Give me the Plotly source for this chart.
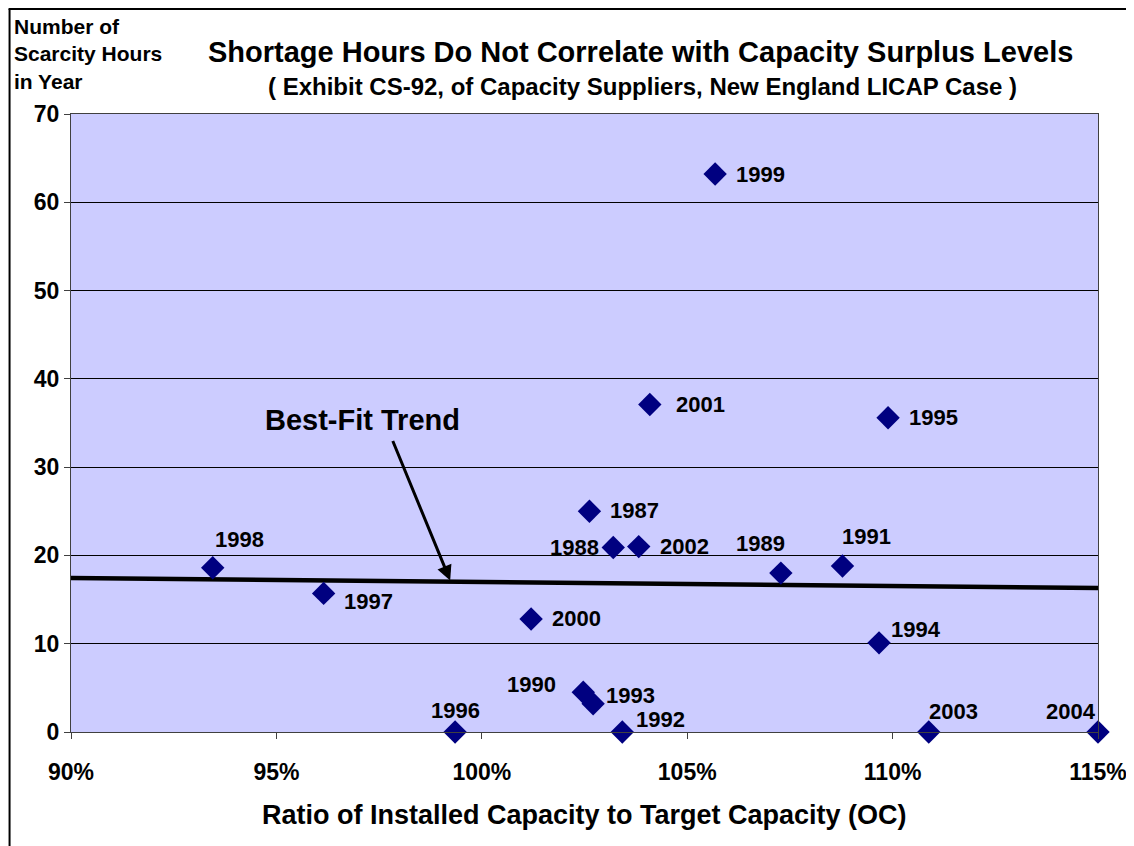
import plotly.graph_objects as go

# ---- data ----
years = ["1999", "2001", "1995", "1987", "1988", "2002", "1989", "1991", "1998",
         "1997", "2000", "1994", "1990", "1993", "1996", "1992", "2003", "2004"]
ratio_pct = [105.68, 104.09, 109.89, 102.62, 103.20, 103.82, 107.28, 108.78, 93.45,
             96.15, 101.20, 109.67, 102.47, 102.71, 99.35, 103.42, 110.88, 115.0]
scarcity_hours = [63.2, 37.1, 35.6, 25.0, 20.9, 21.0, 18.0, 18.8, 18.6,
                  15.7, 12.8, 10.1, 4.5, 3.2, 0, 0, 0, 0]
trend_x = [90, 115]
trend_y = [17.45, 16.3]
x_ticks = [90, 95, 100, 105, 110, 115]
x_tick_labels = ["90%", "95%", "100%", "105%", "110%", "115%"]
y_ticks = [0, 10, 20, 30, 40, 50, 60, 70]

# label offsets (pixels) per year: (xshift, yshift, xanchor)
label_pos = {
    "1999": (19, 0, "left"), "2001": (24, 0, "left"), "1995": (19, 0, "left"),
    "1987": (19, 1, "left"), "1988": (-12, 0, "right"), "2002": (19, 0, "left"),
    "1989": (-20, 30, "center"), "1991": (24, 30, "center"), "1998": (27, 28, "center"),
    "1997": (18, -8, "left"), "2000": (19, 0, "left"), "1994": (10, 13, "left"),
    "1990": (-52, 8, "center"), "1993": (11, 8, "left"), "1996": (0, 22, "center"),
    "1992": (12, 13, "left"), "2003": (25, 21, "center"), "2004": (-27, 21, "center"),
}

FONT = "Liberation Sans, Arial, sans-serif"

# page geometry (page has an 8px body margin)
PL, PR, PT, PB = 70.5, 1098.5, 114.0, 732.0
PW, PH = PR - PL, PB - PT
FIG_W, FIG_H = 1126, 838


def px(X):
    return (X - PL) / PW


def py(Y):
    return (PB - Y) / PH


fig = go.Figure()
fig.add_trace(go.Scatter(x=trend_x, y=trend_y, mode="lines",
                         line=dict(color="black", width=4.5), hoverinfo="skip",
                         showlegend=False))
fig.add_trace(go.Scatter(x=ratio_pct, y=scarcity_hours, mode="markers",
                         marker=dict(symbol="diamond", size=18, color="#000080"),
                         cliponaxis=False, showlegend=False))

annotations = []
for yr, xv, yv in zip(years, ratio_pct, scarcity_hours):
    xs, ys, xa = label_pos[yr]
    annotations.append(dict(x=xv, y=yv, xref="x", yref="y", text="<b>%s</b>" % yr,
                            showarrow=False, xshift=xs, yshift=ys, xanchor=xa,
                            yanchor="middle",
                            font=dict(family=FONT, size=22, color="black")))

# Best-fit trend arrow and label
annotations.append(dict(x=99.23, y=17.16, xref="x", yref="y", text="", showarrow=True,
                        ax=-58, ay=-141, arrowhead=2, arrowsize=1.0, arrowwidth=3,
                        arrowcolor="black"))
annotations.append(dict(x=px(362), y=py(420), xref="paper", yref="paper",
                        xanchor="center", yanchor="middle",
                        text="<b>Best-Fit Trend</b>", showarrow=False,
                        font=dict(family=FONT, size=29, color="black")))

# Titles
annotations.append(dict(x=px(641), y=py(52), xref="paper", yref="paper",
                        xanchor="center", yanchor="middle",
                        text="<b>Shortage Hours Do Not Correlate with Capacity Surplus Levels</b>",
                        showarrow=False, font=dict(family=FONT, size=29, color="black")))
annotations.append(dict(x=px(643), y=py(86), xref="paper", yref="paper",
                        xanchor="center", yanchor="middle",
                        text="<b>( Exhibit CS-92, of Capacity Suppliers, New England LICAP Case )</b>",
                        showarrow=False, font=dict(family=FONT, size=24, color="black")))
annotations.append(dict(x=px(11), y=py(13), xref="paper", yref="paper",
                        xanchor="left", yanchor="top", align="left",
                        text="<b>Number of</b><br><b>Scarcity Hours</b><br><b>in Year</b>",
                        showarrow=False, font=dict(family=FONT, size=21, color="black")))
annotations.append(dict(x=px(585), y=py(815), xref="paper", yref="paper",
                        xanchor="center", yanchor="middle",
                        text="<b>Ratio of Installed Capacity to Target Capacity (OC)</b>",
                        showarrow=False, font=dict(family=FONT, size=27, color="black")))

fig.update_layout(
    width=FIG_W, height=FIG_H,
    margin=dict(l=PL - 8, r=FIG_W + 8 - PR, t=PT - 8, b=FIG_H + 8 - PB, autoexpand=False),
    paper_bgcolor="white", plot_bgcolor="#CCCCFF",
    annotations=annotations,
    font=dict(family=FONT, color="black"),
    shapes=[dict(type="line", xref="paper", yref="paper",
                 x0=px(8), x1=px(1140), y0=py(9), y1=py(9),
                 line=dict(color="black", width=2)),
            dict(type="line", xref="paper", yref="paper",
                 x0=px(9), x1=px(9), y0=py(9), y1=py(850),
                 line=dict(color="black", width=2))],
)
fig.update_xaxes(range=[90, 115], tickvals=x_ticks,
                 ticktext=["<b>%s</b>" % t for t in x_tick_labels],
                 showgrid=False, zeroline=False, showline=True, linecolor="#404040", linewidth=1,
                 mirror=True, ticks="outside", ticklen=6, tickcolor="#404040",
                 ticklabelstandoff=13, automargin=False, ticklabeloverflow="allow",
                 tickfont=dict(family=FONT, size=23, color="black"))
fig.update_yaxes(range=[0, 70], tickvals=y_ticks,
                 ticktext=["<b>%d</b>" % v for v in y_ticks],
                 showgrid=True, gridcolor="#000000", gridwidth=1, zeroline=False,
                 showline=True, linecolor="#404040", linewidth=1, mirror=True,
                 ticks="outside", ticklen=6, tickcolor="#404040", automargin=False,
                 tickfont=dict(family=FONT, size=23, color="black"))

fig.write_html("out.html")
